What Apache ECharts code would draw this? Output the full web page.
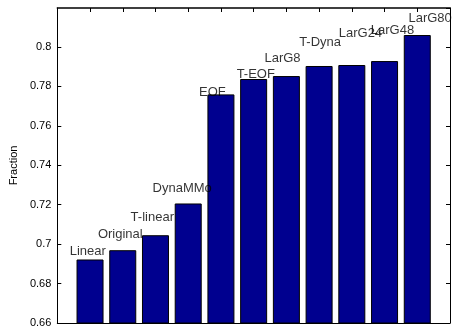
<!DOCTYPE html>
<html>
<head>
<meta charset="utf-8">
<script src="https://cdn.jsdelivr.net/npm/echarts@6/dist/echarts.min.js"></script>
<style>html,body{margin:0;padding:0;background:#fff}#c{width:453px;height:329px}</style>
</head>
<body>
<div id="c"></div>
<script>
// Data
const categories = ["Linear","Original","T-linear","DynaMMo","EOF","T-EOF","LarG8","T-Dyna","LarG24","LarG48","LarG80"];
const values = [0.6922, 0.6969, 0.7045, 0.7206, 0.7759, 0.7837, 0.7852, 0.7903, 0.7908, 0.7928, 0.8060];
// text annotation anchors (data coordinates, left/bottom of text)
const labelX = [0.38, 1.24, 2.24, 2.91, 4.33, 5.48, 6.33, 7.39, 8.60, 9.58, 10.73];
const labelY = [0.6930, 0.7015, 0.7101, 0.7248, 0.7736, 0.7827, 0.7908, 0.7990, 0.8035, 0.8051, 0.8111];
const yTicks = [0.66, 0.68, 0.70, 0.72, 0.74, 0.76, 0.78, 0.80];

const font = "'Liberation Sans', Arial, Helvetica, sans-serif";
const chart = echarts.init(document.getElementById('c'), null, {renderer: 'canvas'});

const barData = values.map((v, i) => [i + 1, v]);
const labelData = categories.map((n, i) => ({name: n, value: [labelX[i], labelY[i]]}));

const yFmt = v => (v > yTicks[yTicks.length - 1] + 0.005) ? '' : String(+v.toFixed(2));

chart.setOption({
  animation: false,
  grid: {left: 54, right: 3, top: 8, bottom: 6, containLabel: false},
  xAxis: [
    {type: 'value', min: 0, max: 12, interval: 1, position: 'bottom',
     axisLine: {show: true, onZero: false, lineStyle: {color: '#000', width: 1}},
     axisTick: {show: true, inside: true, length: 4, lineStyle: {color: '#000'}},
     axisLabel: {show: false}, splitLine: {show: false}},
    {type: 'value', min: 0, max: 12, interval: 1, position: 'top',
     axisLine: {show: true, onZero: false, lineStyle: {color: '#000', width: 1.5}},
     axisTick: {show: true, inside: true, length: 4, lineStyle: {color: '#000'}},
     axisLabel: {show: false}, splitLine: {show: false}}
  ],
  yAxis: [
    {type: 'value', min: 0.66, max: 0.8197, interval: 0.02, position: 'left',
     name: 'Fraction', nameLocation: 'middle', nameGap: 37, nameRotate: 90,
     nameTextStyle: {fontFamily: font, fontSize: 11, color: '#000'},
     axisLine: {show: true, onZero: false, lineStyle: {color: '#000', width: 1}},
     axisTick: {show: true, inside: true, length: 4, lineStyle: {color: '#000'}},
     axisLabel: {show: true, fontFamily: font, fontSize: 11, color: '#000', margin: 6, formatter: yFmt,
                 showMaxLabel: false},
     splitLine: {show: false}},
    {type: 'value', min: 0.66, max: 0.8197, interval: 0.02, position: 'right',
     axisLine: {show: true, onZero: false, lineStyle: {color: '#000', width: 1}},
     axisTick: {show: true, inside: true, length: 4, lineStyle: {color: '#000'}},
     axisLabel: {show: false}, splitLine: {show: false}}
  ],
  series: [
    {type: 'bar', xAxisIndex: 0, yAxisIndex: 0, data: barData, barWidth: 27,
     itemStyle: {color: '#00008F', borderColor: '#000', borderWidth: 1}},
    {type: 'scatter', xAxisIndex: 0, yAxisIndex: 0, data: labelData, symbolSize: 0,
     label: {show: true, position: 'inside', formatter: '{b}', align: 'left', verticalAlign: 'bottom',
             fontFamily: font, fontSize: 13, color: '#000', textBorderWidth: 0, offset: [0, 0]},
     z: 5}
  ]
});
</script>
</body>
</html>
